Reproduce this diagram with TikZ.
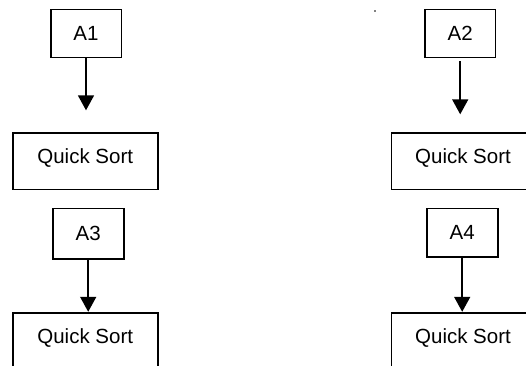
\documentclass[tikz,border=0pt]{standalone}
\usepackage{fontspec}
\setmainfont{Liberation Sans}
\usetikzlibrary{arrows.meta}
\begin{document}
\begin{tikzpicture}[x=1pt,y=1pt,
  every node/.style={font=\fontsize{20.5}{24}\selectfont},
  abox/.style={draw, line width=1.6pt, inner sep=0pt, minimum width=70.6pt, minimum height=48pt},
  qbox/.style={draw, line width=1.6pt, inner sep=0pt, minimum width=145pt, text height=30.4pt, text depth=26pt, anchor=north},
  arr/.style={line width=1.6pt, -{Triangle[width=16pt,length=15pt]}}
]
\useasboundingbox (0,0) rectangle (526,-365);
\clip (0,0) rectangle (526,-365);
\node[abox] (A1) at (86,-33.3) {A1};
\node[abox, minimum width=70.3pt] (A2) at (460.2,-33.3) {A2};
\node[abox, minimum width=71pt, minimum height=50.7pt] (A3) at (88.2,-233.7) {A3};
\node[abox, minimum width=71pt, minimum height=48.7pt] (A4) at (462.2,-232.7) {A4};
\node[qbox] (Q1) at (85.2,-132.3) {Quick Sort};
\node[qbox, minimum width=143.4pt] (Q2) at (463,-132.3) {Quick Sort};
\node[qbox] (Q3) at (85.2,-312.3) {Quick Sort};
\node[qbox, minimum width=143.4pt] (Q4) at (463,-312.3) {Quick Sort};
\draw[arr, shorten >=22pt] (A1.south) -- (A1.south |- Q1.north);
\draw[arr, shorten >=18pt, shorten <=3pt] (A2.south) -- (A2.south |- Q2.north);
\draw[arr, shorten >=0.5pt] (A3.south) -- (A3.south |- Q3.north);
\draw[arr, shorten >=0.5pt] (A4.south) -- (A4.south |- Q4.north);
\fill (375,-11) circle (0.8pt);
\end{tikzpicture}
\end{document}
